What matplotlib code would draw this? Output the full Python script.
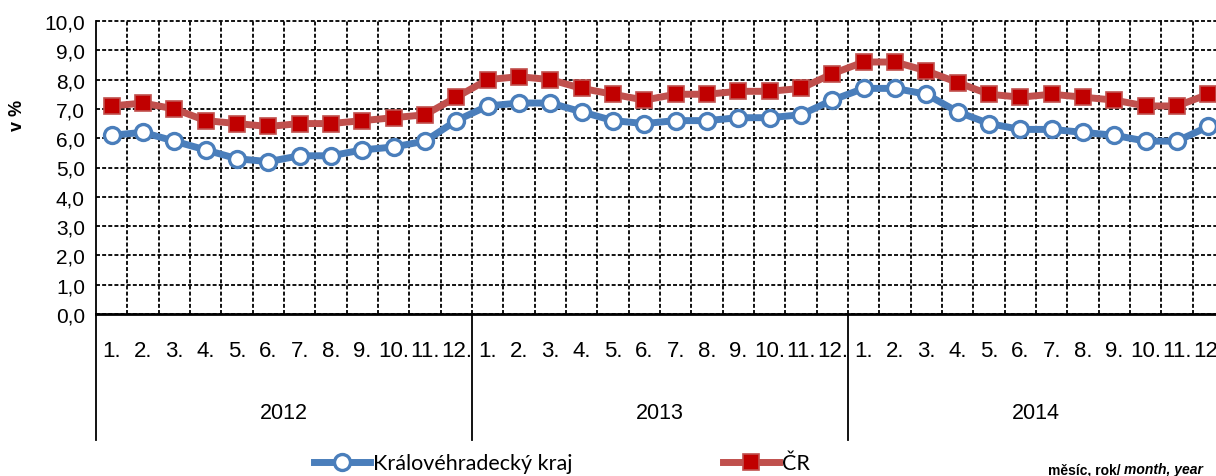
import numpy as np
import matplotlib
matplotlib.use("Agg")
import matplotlib.pyplot as plt
import matplotlib.transforms as mtransforms

# data (unemployment rate, %)
years = ["2012", "2013", "2014"]
months = ["1.", "2.", "3.", "4.", "5.", "6.", "7.", "8.", "9.", "10.", "11.", "12."]
kraj = [6.1, 6.2, 5.9, 5.6, 5.3, 5.2, 5.4, 5.4, 5.6, 5.7, 5.9, 6.6,
        7.1, 7.2, 7.2, 6.9, 6.6, 6.5, 6.6, 6.6, 6.7, 6.7, 6.8, 7.3,
        7.7, 7.7, 7.5, 6.9, 6.5, 6.3, 6.3, 6.2, 6.1, 5.9, 5.9, 6.4]
cr = [7.1, 7.2, 7.0, 6.6, 6.5, 6.4, 6.5, 6.5, 6.6, 6.7, 6.8, 7.4,
      8.0, 8.1, 8.0, 7.7, 7.5, 7.3, 7.5, 7.5, 7.6, 7.6, 7.7, 8.2,
      8.6, 8.6, 8.3, 7.9, 7.5, 7.4, 7.5, 7.4, 7.3, 7.1, 7.1, 7.5]

plt.rcParams['font.family'] = ['Liberation Sans', 'DejaVu Sans']

fig = plt.figure(figsize=(12.16, 4.77), dpi=100)
ax = fig.add_axes([96 / 1216, 162 / 477, 1128 / 1216, 293 / 477])

n = len(kraj)
x = np.arange(n)

blue = '#4A7EBB'
red_line = '#C0504D'
red_mk = '#C00000'

ax.plot(x, cr, color=red_line, lw=5, marker='s', ms=11,
        mfc=red_mk, mec=red_line, mew=1.2, label='ČR', zorder=4, clip_on=False)
ax.plot(x, kraj, color=blue, lw=5, marker='o', ms=11.5,
        mfc='white', mec=blue, mew=2.4, label='Královéhradecký kraj', zorder=5, clip_on=False)

ax.set_xlim(-0.5, n - 0.5)
ax.set_ylim(0, 10)
ax.set_yticks(np.arange(0, 11, 1))
ax.set_yticklabels([f"{v:.1f}".replace('.', ',') for v in np.arange(0, 11, 1)], fontsize=15)
ax.set_xticks(np.arange(0.5, n - 0.5, 1), minor=True)
ax.set_xticks([])
ax.tick_params(axis='y', length=0, pad=8)
ax.tick_params(axis='x', which='both', length=0)

ax.grid(True, axis='y', color='black', lw=1.3, ls=(0, (2.2, 1.2)))
ax.grid(True, axis='x', which='minor', color='black', lw=1.3, ls=(0, (2.2, 1.2)))
for gl in ax.get_ygridlines():
    gl.set_clip_on(False)
ax.set_axisbelow(True)

for s in ['top', 'right']:
    ax.spines[s].set_visible(False)
ax.spines['left'].set_linewidth(1.3)
ax.spines['bottom'].set_linewidth(2.0)

ax.set_ylabel('v %', fontsize=13, fontweight='bold')
ax.yaxis.set_label_coords(-0.062, 0.68)

# two-level category axis below the plot
trans = mtransforms.blended_transform_factory(ax.transData, ax.transAxes)
for i in range(n):
    ax.text(x[i], -0.125, months[i % 12], transform=trans, ha='center', va='center',
            fontsize=16)
for k, yr in enumerate(years):
    ax.text(k * 12 + 5.5, -0.335, yr, transform=trans, ha='center', va='center', fontsize=15.5)
    ax.plot([k * 12 - 0.5, k * 12 - 0.5], [0, -0.431], transform=trans, color='black',
            lw=1.3, clip_on=False)

handles, labels = ax.get_legend_handles_labels()
fig.legend(handles[::-1], labels[::-1], loc='center', bbox_to_anchor=(0.462, 0.027),
           ncol=2, frameon=False, handlelength=2.6, handletextpad=0.15,
           columnspacing=7.0, prop={'family': ['Lato', 'DejaVu Sans'], 'size': 15.5})

t1 = fig.text(1048 / 1216, 0.014, 'měsíc, rok/ ', fontsize=10, fontweight='bold',
              ha='left', va='center')
fig.canvas.draw()
bb = t1.get_window_extent()
fig.text(bb.x1 / fig.bbox.width, 0.014, 'month, year', fontsize=10, fontweight='bold',
         style='italic', ha='left', va='center')

fig.savefig('out.png', dpi=100)
